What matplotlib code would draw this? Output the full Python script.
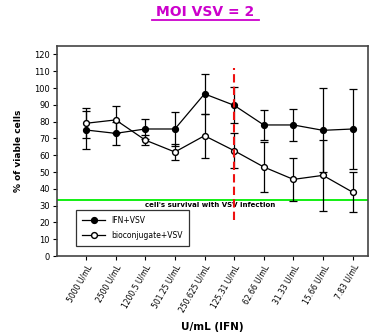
import matplotlib.pyplot as plt
from matplotlib.lines import Line2D
import numpy as np

# dati
labels = ["5000 U/mL", "2500 U/mL", "1200.5 U/mL", "501.25 U/mL", "250.625 U/mL",
          "125.31 U/mL", "62.66 U/mL", "31.33 U/mL", "15.66 U/mL", "7.83 U/mL"]
ifn = [75, 73, 75.6, 75.6, 96.5, 89.7, 78, 78, 74.8, 75.6]
ifn_err = [11.5, 7, 6, 10, 11.8, 10.6, 9, 9.5, 25, 24]
bio = [79, 81, 69, 61.9, 71.6, 62.7, 53, 45.6, 48, 38]
bio_err = [9, 8, 3, 4.6, 13.2, 10.5, 14.7, 13, 21, 12]
survival = 33.2
cut_idx = 5

x = np.arange(len(labels))

fig = plt.figure(figsize=(3.77, 3.33), dpi=100)
ax = fig.add_axes([57/377, 1 - 256/333, 311/377, 210/333])

ms = 4.2
ax.errorbar(x, ifn, yerr=ifn_err, color='black', marker='o', markersize=ms,
            markerfacecolor='black', lw=0.9, elinewidth=0.9, capsize=3, capthick=0.9,
            zorder=3)
ax.errorbar(x, bio, yerr=bio_err, color='black', marker='o', markersize=ms,
            markerfacecolor='white', lw=0.9, elinewidth=0.9, capsize=3, capthick=0.9,
            zorder=3)

# linea di sopravvivenza e soglia
ax.axhline(survival, color='#00ee00', lw=1.3, zorder=2)
ax.text(4.2, survival - 1.2, "cell's survival with VSV infection", fontsize=5,
        fontweight='bold', ha='center', va='top')
ax.plot([cut_idx, cut_idx], [21.5, 112], color='#ee1111', lw=1.5, ls=(0, (4, 2)), zorder=4)

ax.set_xlim(-0.98, 9.52)
ax.set_ylim(0, 125)
ax.set_yticks(np.arange(0, 121, 10))
ax.set_xticks(x)
ax.set_xticklabels(labels, rotation=60, ha='right', rotation_mode='anchor', fontsize=5.5)
ax.tick_params(axis='y', labelsize=6, length=3, width=0.8, pad=2)
ax.tick_params(axis='x', length=3, width=0.8, pad=2)
for s in ax.spines.values():
    s.set_color('#444444')
    s.set_linewidth(1.2)

ax.set_ylabel("% of viable cells", fontsize=6.5, fontweight='bold', labelpad=8)
ax.set_xlabel("U/mL (IFN)", fontsize=7.5, fontweight='bold', labelpad=6)

handles = [Line2D([], [], color='black', lw=0.9, marker='o', markersize=ms,
                  markerfacecolor='black'),
           Line2D([], [], color='black', lw=0.9, marker='o', markersize=ms,
                  markerfacecolor='white')]
leg = ax.legend(handles, ['IFN+VSV', 'bioconjugate+VSV'], loc='lower left',
                bbox_to_anchor=(0.05, 0.03), fontsize=5.5, frameon=True,
                fancybox=False, edgecolor='black', handlelength=3,
                borderpad=0.8, labelspacing=0.8)
leg.get_frame().set_linewidth(0.9)

fig.text(205/377, 1 - 12/333, "MOI VSV = 2", color='#cc00cc', fontsize=10,
         fontweight='bold', ha='center', va='center')
fig.add_artist(Line2D([152/377, 259/377], [1 - 20/333, 1 - 20/333],
                      color='#cc00cc', lw=1.3))

fig.savefig("out.png", dpi=100)
